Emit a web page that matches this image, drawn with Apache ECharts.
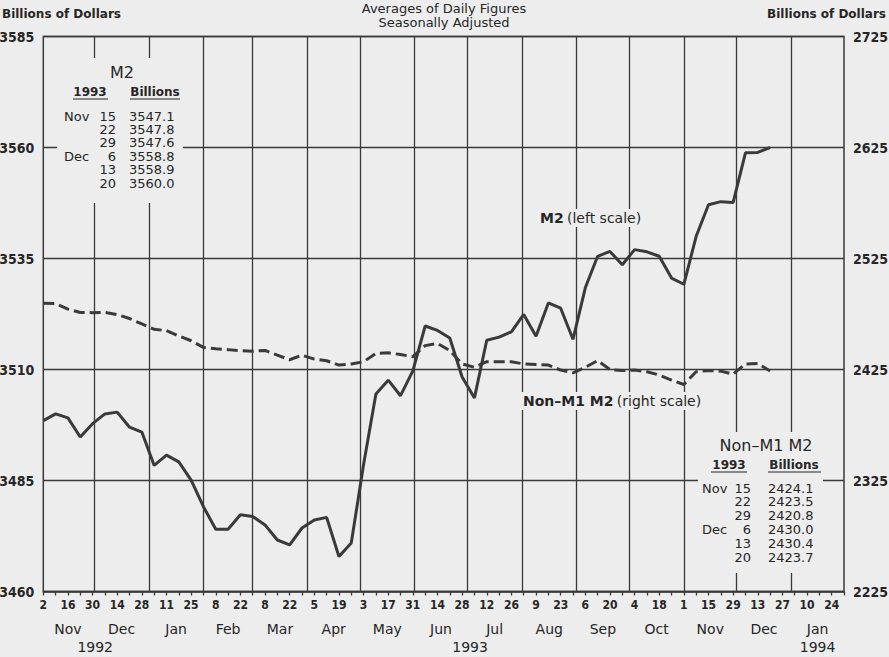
<!DOCTYPE html>
<html><head><meta charset="utf-8">
<script src="https://cdn.jsdelivr.net/npm/echarts@6/dist/echarts.min.js"></script>
<style>html,body{margin:0;padding:0;background:#ededed}#c{width:889px;height:657px}</style>
</head><body><div id="c"></div>
<script>
// ---- data (weekly, starting week of Nov 2, 1992) ----
const startDate = Date.UTC(1992, 10, 2);
const m2Values = [
  3498.5, 3500.0, 3499.1, 3494.8, 3497.8, 3500.0, 3500.4, 3497.0, 3495.9, 3488.4,
  3490.7, 3489.2, 3485.1, 3479.1, 3474.0, 3474.0, 3477.3, 3476.9, 3475.0, 3471.6,
  3470.5, 3474.3, 3476.1, 3476.7, 3467.9, 3470.9, 3488.6, 3504.5, 3507.6, 3504.1,
  3509.7, 3519.8, 3518.8, 3517.1, 3508.3, 3503.6, 3516.6, 3517.3, 3518.5, 3522.4,
  3517.5, 3525.0, 3523.8, 3516.8, 3528.4, 3535.5, 3536.6, 3533.6, 3537.0, 3536.5,
  3535.5, 3530.6, 3529.2, 3540.0, 3547.1, 3547.8, 3547.6, 3558.8, 3558.9, 3560.0
];
const nonM1Values = [
  2484.6, 2484.4, 2479.4, 2476.4, 2476.2, 2476.4, 2474.4, 2470.9, 2466.0, 2461.2,
  2460.0, 2455.2, 2450.9, 2444.9, 2443.7, 2442.9, 2441.9, 2441.4, 2442.2, 2437.9,
  2433.8, 2437.9, 2434.4, 2432.9, 2429.0, 2430.0, 2432.0, 2439.5, 2440.0, 2438.5,
  2436.5, 2446.5, 2448.5, 2442.0, 2430.0, 2427.0, 2432.0, 2432.0, 2432.0, 2430.0,
  2429.5, 2429.0, 2424.5, 2422.0, 2427.0, 2433.0, 2425.0, 2424.0, 2424.5, 2423.0,
  2420.0, 2415.5, 2411.5, 2423.0, 2424.1, 2423.5, 2420.8, 2430.0, 2430.4, 2423.7
];
// month starts (days since Nov 2, 1992) for vertical grid lines
const monthStartDays = [29, 60, 91, 119, 150, 180, 211, 241, 272, 303, 333, 364, 394, 425];
const monthNames = ['Nov','Dec','Jan','Feb','Mar','Apr','May','Jun','Jul','Aug','Sep','Oct','Nov','Dec','Jan'];
const monthMidDays = [14, 44.5, 75.5, 105, 134.5, 165, 195.5, 226, 256.5, 287.5, 318, 348.5, 379, 409.5, 440];
const yearNames = ['1992', '1993', '1994'];
const yearMidDays = [29.5, 242.5, 440];
const leftAxis = { min: 3460, max: 3585, interval: 25 };
const rightAxis = { min: 2225, max: 2725, interval: 100 };
const tableMonths = ['Nov', '', '', 'Dec', '', ''];
const tableDays = ['15', '22', '29', '6', '13', '20'];

// ---- helpers ----
const BG = '#ededed', INK = '#262626', LINE = '#3a3a3a';
const TXT = "'DejaVu Sans', sans-serif";
const NARROW = "'DejaVu Sans Condensed','Liberation Sans Narrow',sans-serif";
const m2Data = m2Values.map((v, i) => [i * 7, v]);
const nonM1Data = nonM1Values.map((v, i) => [i * 7, v]);
const m2Tab = m2Values.slice(-6).map(v => v.toFixed(1));
const nmTab = nonM1Values.slice(-6).map(v => v.toFixed(1));

function dayLabel(v) {
  if (v % 14 !== 0) return '';
  const d = new Date(startDate + v * 86400000);
  return String(d.getUTCDate());
}

const graphics = [];
function txt(x, y, text, opt) {
  graphics.push(Object.assign({ type: 'text', x: x, y: y, z: 60,
    style: Object.assign({ text: text, fill: INK, font: '13px ' + TXT, align: 'left', verticalAlign: 'middle' }, opt || {}) }));
}
function rect(x, y, w, h) {
  graphics.push({ type: 'rect', z: 50, shape: { x: x, y: y, width: w, height: h }, style: { fill: BG } });
}
function uline(x1, x2, y) {
  graphics.push({ type: 'line', z: 60, shape: { x1: x1, y1: y, x2: x2, y2: y }, style: { stroke: INK, lineWidth: 1.2 } });
}

// header texts
txt(444, 8, 'Averages of Daily Figures', { align: 'center', font: '13px ' + TXT });
txt(444, 22, 'Seasonally Adjusted', { align: 'center', font: '13px ' + TXT });
txt(2, 14, 'Billions of Dollars', { font: 'bold 12px ' + TXT });
txt(886, 14, 'Billions of Dollars', { align: 'right', font: 'bold 12px ' + TXT });

// M2 table
rect(57, 58, 126, 145);
txt(122, 72, 'M2', { align: 'center', font: '16px ' + TXT });
txt(90, 92, '1993', { align: 'center', font: 'bold 12px ' + TXT });
txt(155, 92, 'Billions', { align: 'center', font: 'bold 12px ' + TXT });
uline(73, 108, 99); uline(130, 180, 99);
for (let k = 0; k < 6; k++) {
  const y = 116 + k * 13.4;
  if (tableMonths[k]) txt(64, y, tableMonths[k]);
  txt(116, y, tableDays[k], { align: 'right' });
  txt(129, y, m2Tab[k]);
}
// Non-M1 table
rect(698, 432, 125, 141);
txt(766, 445, 'Non\u2013M1 M2', { align: 'center', font: '16px ' + TXT });
txt(729, 465, '1993', { align: 'center', font: 'bold 12px ' + TXT });
txt(794, 465, 'Billions', { align: 'center', font: 'bold 12px ' + TXT });
uline(711, 747, 472); uline(768, 821, 472);
for (let k = 0; k < 6; k++) {
  const y = 488 + k * 13.8;
  if (tableMonths[k]) txt(702, y, tableMonths[k]);
  txt(751, y, tableDays[k], { align: 'right' });
  txt(768, y, nmTab[k]);
}
// series labels
graphics.push({ type: 'text', x: 538, y: 218, z: 60, style: {
  text: '{b|M2} {r|(left scale)}', verticalAlign: 'middle', backgroundColor: BG, padding: [2, 2],
  rich: { b: { font: 'bold 14px ' + TXT, fill: INK }, r: { font: '14px ' + TXT, fill: INK } } } });
graphics.push({ type: 'text', x: 521, y: 401, z: 60, style: {
  text: '{b|Non\u2013M1 M2} {r|(right scale)}', verticalAlign: 'middle', backgroundColor: BG, padding: [2, 2],
  rich: { b: { font: 'bold 14px ' + TXT, fill: INK }, r: { font: '14px ' + TXT, fill: INK } } } });

const chart = echarts.init(document.getElementById('c'), null, { renderer: 'svg' });
chart.setOption({
  backgroundColor: BG,
  animation: false,
  grid: { left: 43.3, right: 45, top: 36.5, bottom: 65.5, outerBoundsMode: 'none', containLabel: false,
    show: true, borderColor: LINE, borderWidth: 1.5, backgroundColor: 'transparent' },
  xAxis: [
    { type: 'value', min: 0, max: 455, interval: 7, position: 'bottom',
      axisLine: { show: true, lineStyle: { color: LINE, width: 1.5 } },
      axisTick: { show: true, length: 4, lineStyle: { color: LINE, width: 1.3 } },
      splitLine: { show: false },
      axisLabel: { formatter: dayLabel, margin: 7, color: INK, fontSize: 12, fontWeight: 'bold', fontFamily: NARROW, showMinLabel: true, showMaxLabel: true } },
    { type: 'value', min: 0, max: 455, position: 'bottom', offset: 22,
      axisLine: { show: false }, axisTick: { show: false }, splitLine: { show: false },
      axisLabel: { customValues: monthMidDays, margin: 8, color: INK, fontSize: 14, fontFamily: TXT,
        formatter: function (v) { const i = monthMidDays.indexOf(v); return i >= 0 ? monthNames[i] : ''; } } },
    { type: 'value', min: 0, max: 455, position: 'bottom', offset: 40,
      axisLine: { show: false }, axisTick: { show: false }, splitLine: { show: false },
      axisLabel: { customValues: yearMidDays, margin: 8, color: INK, fontSize: 14, fontFamily: TXT,
        formatter: function (v) { const i = yearMidDays.indexOf(v); return i >= 0 ? yearNames[i] : ''; } } }
  ],
  yAxis: [
    { type: 'value', min: leftAxis.min, max: leftAxis.max, interval: leftAxis.interval, position: 'left',
      axisLine: { show: false }, axisTick: { show: false },
      splitLine: { show: true, lineStyle: { color: LINE, width: 1.3 } },
      axisLabel: { margin: 9, color: INK, fontSize: 14, fontWeight: 'bold', fontFamily: NARROW, formatter: v => String(v) } },
    { type: 'value', min: rightAxis.min, max: rightAxis.max, interval: rightAxis.interval, position: 'right',
      axisLine: { show: false }, axisTick: { show: false }, splitLine: { show: false },
      axisLabel: { margin: 9, color: INK, fontSize: 14, fontWeight: 'bold', fontFamily: NARROW, formatter: v => String(v) } }
  ],
  series: [
    { name: 'M2', type: 'line', xAxisIndex: 0, yAxisIndex: 0, data: m2Data, showSymbol: false, symbol: 'none',
      lineStyle: { color: LINE, width: 3 }, z: 5,
      markLine: { silent: true, symbol: ['none', 'none'], label: { show: false },
        lineStyle: { type: 'solid', color: LINE, width: 1.3 }, emphasis: { disabled: true },
        data: monthStartDays.map(d => ({ xAxis: d })) } },
    { name: 'Non-M1 M2', type: 'line', xAxisIndex: 0, yAxisIndex: 1, data: nonM1Data, showSymbol: false, symbol: 'none',
      lineStyle: { color: LINE, width: 3, type: [11, 5] }, z: 5 }
  ],
  graphic: graphics
});
</script></body></html>
